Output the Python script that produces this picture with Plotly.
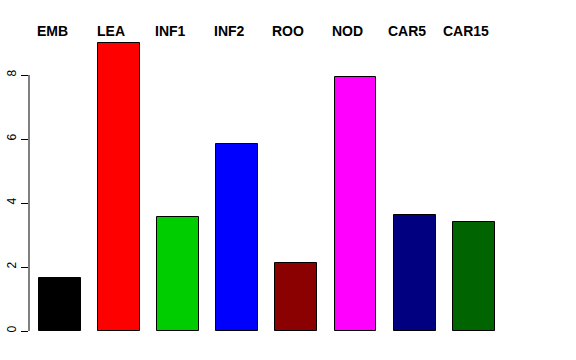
import plotly.graph_objects as go

categories = ["EMB", "LEA", "INF1", "INF2", "ROO", "NOD", "CAR5", "CAR15"]
values = [1.65, 9.0, 3.56, 5.84, 2.13, 7.95, 3.62, 3.42]
colors = ["#000000", "#FF0000", "#00CD00", "#0000FF", "#8B0000", "#FF00FF", "#000080", "#006400"]
y_ticks = [0, 2, 4, 6, 8]

xpos = list(range(len(categories)))

fig = go.Figure()
fig.add_trace(go.Bar(
    x=xpos, y=values, width=0.71,
    marker=dict(color=colors, line=dict(color="black", width=1)),
    hoverinfo="skip",
))

# axis line from 0 to 8 (R style)
fig.add_shape(type="line", xref="paper", yref="y", x0=0, x1=0, y0=0, y1=8,
              line=dict(color="black", width=1))

for i, c in enumerate(categories):
    fig.add_annotation(x=i, y=9.39, xref="x", yref="y", text="<b>%s</b>" % c,
                       showarrow=False, xshift=-8, yanchor="middle",
                       font=dict(family="Liberation Sans, Arial, sans-serif", size=14, color="black"))

W = 518
x0 = -0.5245
fig.update_layout(
    width=576, height=360,
    margin=dict(l=29, r=29, t=30, b=20, autoexpand=False),
    plot_bgcolor="white", paper_bgcolor="white",
    showlegend=False,
    bargap=0,
    xaxis=dict(range=[x0, x0 + W / 59.1], visible=False, fixedrange=True, automargin=False),
    yaxis=dict(range=[-0.28125, 9.40625], tickvals=y_ticks, ticktext=[str(v) for v in y_ticks],
               ticks="outside", ticklen=7, tickcolor="black", tickangle=-90,
               showgrid=False, zeroline=False, showline=False, automargin=False,
               tickfont=dict(family="Liberation Sans, Arial, sans-serif", size=12, color="black"),
               fixedrange=True),
    font=dict(family="Liberation Sans, Arial, sans-serif"),
)

fig.write_html("out.html", config={"displayModeBar": False},
               post_script="document.body.style.margin='0';document.body.style.padding='0';")
